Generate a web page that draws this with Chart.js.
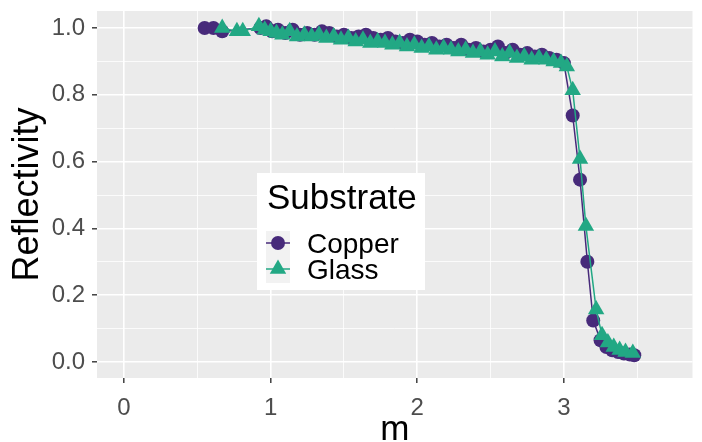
<!DOCTYPE html>
<html>
<head>
<meta charset="utf-8">
<script src="https://cdn.jsdelivr.net/npm/chart.js@4.4.0/dist/chart.umd.min.js"></script>
<style>
  body { margin: 0; background: #fff; }
  canvas { display: block; }
</style>
</head>
<body>
<canvas id="refl" width="702" height="442"></canvas>
<script>
// data
const copperM = [0.55, 0.61, 0.67, 0.93, 0.97, 1.01, 1.05, 1.10, 1.15, 1.20, 1.25, 1.30, 1.35, 1.40, 1.45, 1.50,
  1.55, 1.60, 1.65, 1.70, 1.75, 1.80, 1.85, 1.90, 1.95, 2.00, 2.05, 2.10, 2.15, 2.20, 2.25, 2.30, 2.35, 2.40,
  2.45, 2.50, 2.55, 2.60, 2.65, 2.70, 2.75, 2.80, 2.85, 2.90, 2.95, 3.00, 3.06, 3.11, 3.16, 3.20, 3.25, 3.29,
  3.33, 3.37, 3.41, 3.45, 3.48];
const copperR = [1.0, 1.0, 0.99, 1.0, 1.005, 0.99, 0.995, 0.985, 0.995, 0.98, 0.985, 0.98, 0.99, 0.985, 0.975, 0.98,
  0.97, 0.975, 0.98, 0.97, 0.965, 0.97, 0.96, 0.955, 0.965, 0.96, 0.95, 0.955, 0.945, 0.95, 0.94, 0.95, 0.935, 0.94,
  0.93, 0.935, 0.945, 0.925, 0.935, 0.92, 0.925, 0.915, 0.92, 0.91, 0.905, 0.895, 0.738, 0.546, 0.30, 0.124, 0.065, 0.045,
  0.035, 0.03, 0.025, 0.022, 0.02];

const glassM = [0.67, 0.77, 0.81, 0.92, 0.96, 1.00, 1.04, 1.08, 1.13, 1.18, 1.23, 1.28, 1.33, 1.38, 1.43, 1.48,
  1.53, 1.58, 1.63, 1.68, 1.73, 1.78, 1.83, 1.88, 1.93, 1.98, 2.03, 2.08, 2.13, 2.18, 2.23, 2.28, 2.33, 2.38,
  2.43, 2.48, 2.53, 2.58, 2.63, 2.68, 2.73, 2.78, 2.83, 2.88, 2.93, 2.98, 3.02, 3.06, 3.11, 3.15, 3.22, 3.26,
  3.30, 3.34, 3.38, 3.42, 3.47];
const glassR = [1.0, 0.99, 0.99, 1.005, 0.995, 0.99, 0.985, 0.98, 0.99, 0.975, 0.98, 0.975, 0.98, 0.97, 0.975, 0.965,
  0.97, 0.96, 0.965, 0.955, 0.96, 0.955, 0.95, 0.955, 0.945, 0.95, 0.94, 0.945, 0.935, 0.94, 0.935, 0.93, 0.935, 0.925,
  0.93, 0.92, 0.93, 0.915, 0.925, 0.91, 0.915, 0.905, 0.91, 0.905, 0.9, 0.895, 0.885, 0.814, 0.608, 0.407, 0.157, 0.08,
  0.058, 0.045, 0.036, 0.03, 0.027];

const xTicks = [0, 0.5, 1, 1.5, 2, 2.5, 3, 3.5];
const yTicks = [0, 0.1, 0.2, 0.3, 0.4, 0.5, 0.6, 0.7, 0.8, 0.9, 1.0];
const xMajor = [0, 1, 2, 3];
const yMajor = [0, 0.2, 0.4, 0.6, 0.8, 1.0];

const COPPER = "#472a7a";
const GLASS = "#22a884";
const FONT = "'Liberation Sans', Arial, sans-serif";

function pts(xs, ys) {
  return xs.map((x, i) => ({ x: x, y: ys[i] }));
}
function isMajor(list, v) {
  return list.some(m => Math.abs(m - v) < 1e-6);
}
function noPad(axis) {
  axis.paddingLeft = 0; axis.paddingRight = 0;
  axis.paddingTop = 0; axis.paddingBottom = 0;
}

// grey ggplot panel
const panelBg = {
  id: "panelBg",
  beforeDraw(chart) {
    const a = chart.chartArea;
    const ctx = chart.ctx;
    ctx.save();
    ctx.fillStyle = "#ebebeb";
    ctx.fillRect(a.left, a.top, a.right - a.left, a.bottom - a.top);
    ctx.restore();
  }
};

// legend drawn inside the panel
const insideLegend = {
  id: "insideLegend",
  afterDraw(chart) {
    const ctx = chart.ctx;
    ctx.save();
    ctx.fillStyle = "#ffffff";
    ctx.fillRect(257, 173, 168, 117);
    ctx.fillStyle = "#000";
    ctx.font = "35px " + FONT;
    ctx.textBaseline = "alphabetic";
    ctx.fillText("Substrate", 267, 209);
    ctx.fillStyle = "#f2f2f2";
    ctx.fillRect(266, 231, 24, 52);

    // copper key
    ctx.strokeStyle = COPPER;
    ctx.lineWidth = 1.5;
    ctx.beginPath(); ctx.moveTo(266, 243); ctx.lineTo(290, 243); ctx.stroke();
    ctx.fillStyle = COPPER;
    ctx.beginPath(); ctx.arc(278, 243, 7, 0, Math.PI * 2); ctx.fill();

    // glass key
    ctx.strokeStyle = GLASS;
    ctx.beginPath(); ctx.moveTo(266, 269); ctx.lineTo(290, 269); ctx.stroke();
    ctx.fillStyle = GLASS;
    const r = 9.5;
    ctx.beginPath();
    ctx.moveTo(278, 269 - r);
    ctx.lineTo(278 + r * Math.sqrt(3) / 2, 269 + r / 2);
    ctx.lineTo(278 - r * Math.sqrt(3) / 2, 269 + r / 2);
    ctx.closePath(); ctx.fill();

    ctx.fillStyle = "#000";
    ctx.font = "28px " + FONT;
    ctx.textBaseline = "middle";
    ctx.fillText("Copper", 307, 245);
    ctx.fillText("Glass", 307, 271);
    ctx.restore();
  }
};

const chart = new Chart(document.getElementById("refl").getContext("2d"), {
  type: "scatter",
  data: {
    datasets: [
      {
        label: "Glass",
        data: pts(glassM, glassR),
        showLine: true,
        borderColor: GLASS,
        backgroundColor: GLASS,
        borderWidth: 1.5,
        pointStyle: "triangle",
        pointRadius: 9.5,
        pointBorderWidth: 0,
        tension: 0
      },
      {
        label: "Copper",
        data: pts(copperM, copperR),
        showLine: true,
        borderColor: COPPER,
        backgroundColor: COPPER,
        borderWidth: 1.5,
        pointStyle: "circle",
        pointRadius: 7,
        pointBorderWidth: 0,
        tension: 0
      }
    ]
  },
  options: {
    responsive: false,
    animation: false,
    layout: { padding: { left: 0, top: 11, right: 1, bottom: -9 } },
    plugins: {
      legend: { display: false },
      tooltip: { enabled: false }
    },
    scales: {
      x: {
        type: "linear",
        min: -0.184,
        max: 3.877,
        afterBuildTicks: (axis) => { axis.ticks = xTicks.map(v => ({ value: v })); },
        afterFit: (axis) => { axis.height = 73; noPad(axis); },
        border: { display: false },
        grid: {
          color: "#ffffff",
          lineWidth: (c) => isMajor(xMajor, c.tick.value) ? 1.6 : 0.8,
          drawTicks: true,
          tickLength: 5,
          tickColor: (c) => isMajor(xMajor, c.tick.value) ? "#333333" : "rgba(0,0,0,0)",
          tickWidth: 1.4
        },
        ticks: {
          autoSkip: false,
          maxRotation: 0,
          padding: 11,
          color: "#4d4d4d",
          font: { family: FONT, size: 24 },
          callback: (v) => isMajor(xMajor, v) ? String(v) : ""
        },
        title: {
          display: true,
          text: "m",
          color: "#000",
          font: { family: FONT, size: 35 },
          padding: { top: 0, bottom: 0 }
        }
      },
      y: {
        type: "linear",
        min: -0.048,
        max: 1.051,
        afterBuildTicks: (axis) => { axis.ticks = yTicks.map(v => ({ value: v })); },
        afterFit: (axis) => { axis.width = 97; noPad(axis); },
        border: { display: false },
        grid: {
          color: "#ffffff",
          lineWidth: (c) => isMajor(yMajor, c.tick.value) ? 1.6 : 0.8,
          drawTicks: true,
          tickLength: 5,
          tickColor: (c) => isMajor(yMajor, c.tick.value) ? "#333333" : "rgba(0,0,0,0)",
          tickWidth: 1.4
        },
        ticks: {
          autoSkip: false,
          padding: 7,
          color: "#4d4d4d",
          font: { family: FONT, size: 24 },
          callback: (v) => isMajor(yMajor, v) ? v.toFixed(1) : ""
        },
        title: {
          display: true,
          text: "Reflectivity",
          color: "#000",
          font: { family: FONT, size: 36 },
          padding: { top: 6, bottom: 0 }
        }
      }
    }
  },
  plugins: [panelBg, insideLegend]
});
</script>
</body>
</html>
